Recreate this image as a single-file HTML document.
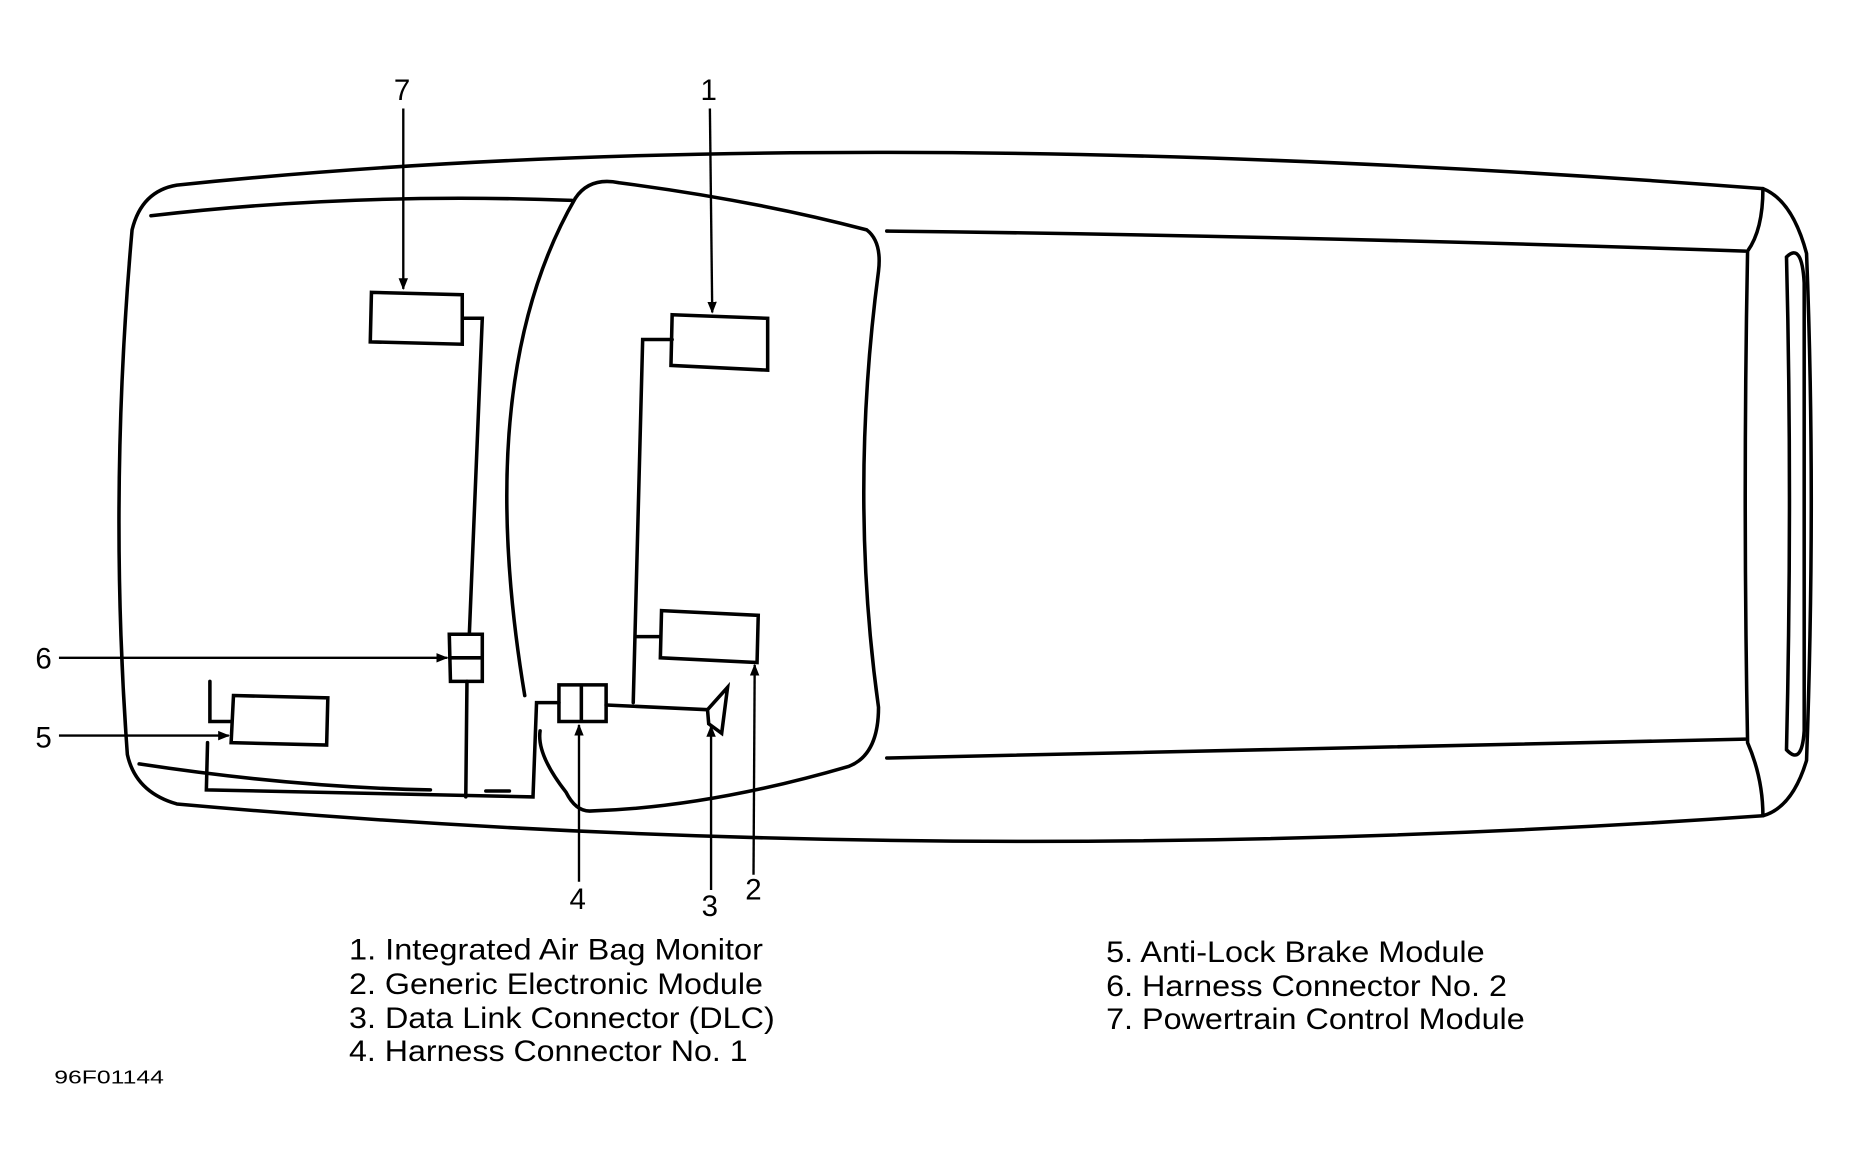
<!DOCTYPE html>
<html><head><style>
html,body{margin:0;padding:0;background:#fff;width:1849px;height:1160px;overflow:hidden}
svg{display:block}
text{font-family:"Liberation Sans",sans-serif;fill:#000}
</style></head><body>
<svg width="1849" height="1160" viewBox="0 0 1568 984" preserveAspectRatio="none" xmlns="http://www.w3.org/2000/svg">
<defs><marker id="a" markerWidth="10" markerHeight="10" refX="9" refY="5" orient="auto" markerUnits="userSpaceOnUse"><path d="M0,1 L10,5 L0,9 z" fill="#000"/></marker></defs>
<g fill="none" stroke="#000" stroke-width="3" stroke-linecap="round">
<path d="M150,157 Q700,100 1495,160 Q1520,170 1532,215 Q1540,420 1532,645 Q1520,685 1495,692 Q800,740 150,682 Q115,672 108,640 Q92,420 112,195 Q120,162 150,157 Z"/>
<path d="M128,183 Q300,163 485,170"/>
<path d="M118,648 Q250,668 365,670"/>
<path d="M412,671 L432,671"/>
<path d="M488,168 Q500,150 525,155 Q640,170 735,195 Q748,205 745,230 Q720,420 745,600 Q745,640 720,650 Q600,685 500,688 Q488,688 480,672 Q455,640 458,620"/>
<path d="M488,168 Q400,320 445,590"/>
<path d="M752,196 Q1100,200 1480,213"/>
<path d="M752,643 Q1100,635 1480,627"/>
<path d="M1495,160 Q1495,195 1482,213 Q1478,420 1482,630 Q1495,660 1495,692"/>
<path d="M1515,218 Q1528,205 1530,240 L1530,620 Q1528,650 1515,636 Q1520,420 1515,218"/>
<path d="M315,248 L392,250 L392,292 L314,290 Z"/>
<path d="M570,267 L651,270 L651,314 L569,310 Z"/>
<path d="M561,518 L643,522 L642,562 L560,558 Z"/>
<path d="M198,590 L278,592 L277,632 L196,630 Z"/>
<path d="M381,538 L409,538 L409,578 L382,578 Z M381,558 L409,558"/>
<path d="M474,581 L514,581 L514,612 L474,612 Z M493,581 L493,612"/>
<path d="M600,602 L617,583 L612,622 L601,614 Z"/>
<path d="M392,270 L409,270 L398,538"/>
<path d="M396,578 L395,676"/>
<path d="M570,288 L545,288 L537,596"/>
<path d="M560,540 L540,540"/>
<path d="M514,598 L600,602"/>
<path d="M474,596 L455,596 L452,676 L175,670 L176,630"/>
<path d="M178,578 L178,612 L196,612"/>
</g>
<g stroke="#000" stroke-width="2" fill="none" marker-end="url(#a)">
<line x1="342" y1="92" x2="342" y2="245"/>
<line x1="602" y1="92" x2="604" y2="265"/>
<line x1="50" y1="558" x2="379" y2="558"/>
<line x1="50" y1="624" x2="194" y2="624"/>
<line x1="491" y1="748" x2="491" y2="615"/>
<line x1="603" y1="755" x2="603" y2="616"/>
<line x1="639" y1="742" x2="640" y2="564"/>
</g>
<g font-size="25">
<text x="334" y="85">7</text>
<text x="594" y="85">1</text>
<text x="30" y="567">6</text>
<text x="30" y="634">5</text>
<text x="483" y="771">4</text>
<text x="595" y="777">3</text>
<text x="632" y="763">2</text>
</g>
<g font-size="25" lengthAdjust="spacingAndGlyphs">
<text x="296" y="814" textLength="351" lengthAdjust="spacingAndGlyphs">1. Integrated Air Bag Monitor</text>
<text x="296" y="843" textLength="351" lengthAdjust="spacingAndGlyphs">2. Generic Electronic Module</text>
<text x="296" y="872" textLength="361" lengthAdjust="spacingAndGlyphs">3. Data Link Connector (DLC)</text>
<text x="296" y="900" textLength="338" lengthAdjust="spacingAndGlyphs">4. Harness Connector No. 1</text>
<text x="938" y="816" textLength="321" lengthAdjust="spacingAndGlyphs">5. Anti-Lock Brake Module</text>
<text x="938" y="845" textLength="340" lengthAdjust="spacingAndGlyphs">6. Harness Connector No. 2</text>
<text x="938" y="873" textLength="355" lengthAdjust="spacingAndGlyphs">7. Powertrain Control Module</text>
</g>
<text x="46" y="919" font-size="16" textLength="93" lengthAdjust="spacingAndGlyphs">96F01144</text>
</svg>
</body></html>
